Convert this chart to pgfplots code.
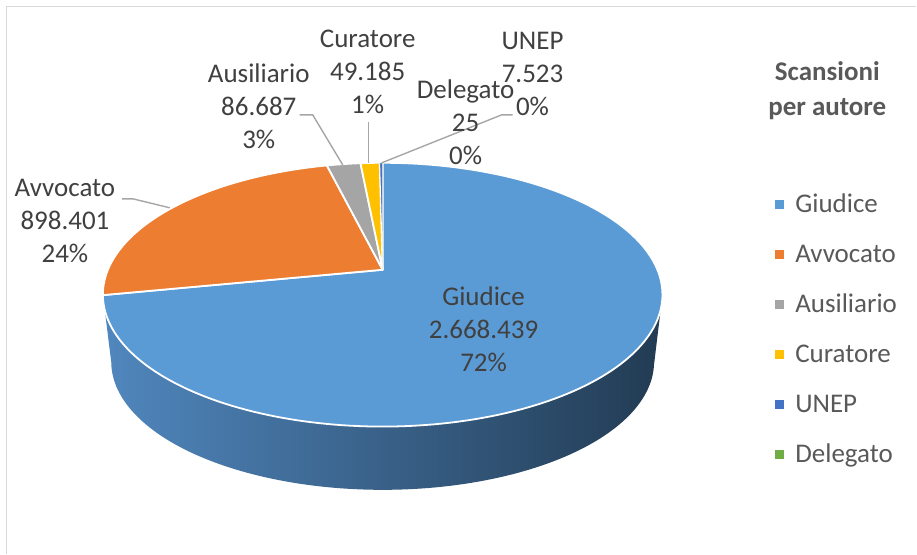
\documentclass[border=0pt]{standalone}
\usepackage{fontspec}
\setmainfont{Carlito}
\usepackage{pgfplots}
\usepackage{pgfplotstable}
\pgfplotsset{compat=1.18}
\usepgflibrary{fpu}

\definecolor{cGiu}{HTML}{5B9BD5}
\definecolor{cAvv}{HTML}{ED7D31}
\definecolor{cAus}{HTML}{A5A5A5}
\definecolor{cCur}{HTML}{FFC000}
\definecolor{cUne}{HTML}{4472C4}
\definecolor{cDel}{HTML}{70AD47}
\definecolor{sideL}{HTML}{5087BE}
\definecolor{sideM}{HTML}{335B80}
\definecolor{sideR}{HTML}{223B53}
\definecolor{labtxt}{HTML}{404040}
\definecolor{legtxt}{HTML}{595959}
\definecolor{leader}{HTML}{A6A6A6}
\definecolor{frame}{HTML}{D9D9D9}

\pgfplotstableread{
name value
Giudice 2668439
Avvocato 898401
Ausiliario 86687
Curatore 49185
UNEP 7523
Delegato 25
}\piedata

\pgfplotstablegetelem{0}{value}\of\piedata\edef\vA{\pgfplotsretval}
\pgfplotstablegetelem{1}{value}\of\piedata\edef\vB{\pgfplotsretval}
\pgfplotstablegetelem{2}{value}\of\piedata\edef\vC{\pgfplotsretval}
\pgfplotstablegetelem{3}{value}\of\piedata\edef\vD{\pgfplotsretval}
\pgfplotstablegetelem{4}{value}\of\piedata\edef\vE{\pgfplotsretval}
\pgfplotstablegetelem{5}{value}\of\piedata\edef\vF{\pgfplotsretval}
\pgfkeys{/pgf/fpu=true,/pgf/fpu/output format=fixed}
\pgfmathsetmacro\tot{\vA+\vB+\vC+\vD+\vE+\vF}
\pgfmathsetmacro\aA{90-360*\vA/\tot}
\pgfmathsetmacro\aB{\aA-360*\vB/\tot}
\pgfmathsetmacro\aC{\aB-360*\vC/\tot}
\pgfmathsetmacro\aD{\aC-360*\vD/\tot}
\pgfmathsetmacro\aE{\aD-360*\vE/\tot}
\pgfmathsetmacro\aF{\aE-360*\vF/\tot}
\pgfkeys{/pgf/fpu=false}

\begin{document}%
\begin{tikzpicture}
\begin{axis}[
  x=0.5pt, y=0.5pt,
  xmin=0, xmax=917, ymin=0, ymax=554,
  y dir=reverse,
  hide axis, clip=false,
  declare function={
    XT(\a)=383+275*cos(\a)/(1+0.189*sin(\a));
    YT(\a)=270-127.3*sin(\a)/(1+0.189*sin(\a));
    XB(\a)=383+266.75*cos(\a)/(1+0.189*sin(\a));
    YB(\a)=338-123.5*sin(\a)/(1+0.189*sin(\a));
  },
  legend image code/.code={\fill[#1, draw=none] (0pt,-1.4pt) rectangle (4.5pt,3.1pt);},
  legend cell align=left,
  legend style={draw=none, fill=none, at={(axis cs:776,194.5)}, anchor=north west,
    font=\fontsize{13.5}{16.5}\selectfont, text=legtxt, inner sep=0pt, outer sep=0pt,
    column sep=5.5pt, row sep=13pt,
    nodes={inner sep=0pt, text height=9pt, text depth=3pt}},
]
% frame
\draw[frame, line width=0.8pt] (axis cs:6.5,554) -- (axis cs:6.5,6.5) -- (axis cs:917,6.5);
\path (axis cs:0,0) rectangle (axis cs:917,554);

% side of the pie
\addplot[forget plot, draw=none, left color=sideL, middle color=sideM, right color=sideR,
  domain=0:2, samples=241, variable=\t]
  ({\t<=1 ? XT(191+158*\t) : XB(349-158*(\t-1))},
   {\t<=1 ? YT(191+158*\t) : YB(349-158*(\t-1))}) -- cycle;

% top faces
\addplot[fill=cGiu, draw=white, line width=0.9pt, line join=round, domain=\aA:90, samples=181, variable=\t]
  ({XT(\t)},{YT(\t)}) -- (axis cs:383,270) -- cycle;
\addlegendentry{Giudice}
\addplot[fill=cAvv, draw=white, line width=0.9pt, line join=round, domain=\aB:\aA, samples=81, variable=\t]
  ({XT(\t)},{YT(\t)}) -- (axis cs:383,270) -- cycle;
\addlegendentry{Avvocato}
\addplot[fill=cAus, draw=white, line width=0.9pt, line join=round, domain=\aC:\aB, samples=11, variable=\t]
  ({XT(\t)},{YT(\t)}) -- (axis cs:383,270) -- cycle;
\addlegendentry{Ausiliario}
\addplot[fill=cCur, draw=white, line width=0.9pt, line join=round, domain=\aD:\aC, samples=7, variable=\t]
  ({XT(\t)},{YT(\t)}) -- (axis cs:383,270) -- cycle;
\addlegendentry{Curatore}
\addplot[fill=cUne, draw=white, line width=0.4pt, line join=round, domain=\aE:\aD, samples=3, variable=\t]
  ({XT(\t)},{YT(\t)}) -- (axis cs:383,270) -- cycle;
\addlegendentry{UNEP}
\addplot[fill=cDel, draw=none, domain=\aF:\aE, samples=2, variable=\t]
  ({XT(\t)},{YT(\t)}) -- (axis cs:383,270) -- cycle;
\addlegendentry{Delegato}

% leader lines
\draw[leader, line width=0.7pt] (axis cs:122,199) -- (axis cs:133,199) -- (axis cs:170,208);
\draw[leader, line width=0.7pt] (axis cs:300,115) -- (axis cs:313,115) -- (axis cs:343,165);
\draw[leader, line width=0.7pt] (axis cs:369,122) -- (axis cs:369,163);
\draw[leader, line width=0.7pt] (axis cs:382,163) -- (axis cs:502,115) -- (axis cs:513,115);

% data labels
\tikzset{lab/.style={align=center, text=labtxt, font=\fontsize{13.5}{16.5}\selectfont, inner sep=0pt}}
\node[lab] at (axis cs:484,330) {Giudice\\2.668.439\\72\%};
\node[lab] at (axis cs:65,221) {Avvocato\\898.401\\24\%};
\node[lab] at (axis cs:259,106) {Ausiliario\\86.687\\3\%};
\node[lab] at (axis cs:368,72) {Curatore\\49.185\\1\%};
\node[lab] at (axis cs:466,122) {Delegato\\25\\0\%};
\node[lab] at (axis cs:533,74) {UNEP\\7.523\\0\%};

% legend title
\node[align=center, text=legtxt, font=\fontsize{13.5}{17.5}\selectfont\bfseries, inner sep=0pt]
  at (axis cs:828,91) {Scansioni\\per autore};
\end{axis}
\end{tikzpicture}%
\end{document}
